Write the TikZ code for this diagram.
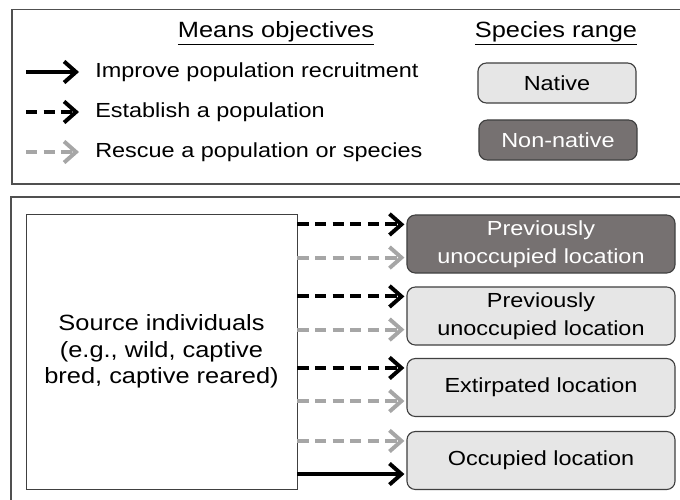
\documentclass[tikz,border=0pt]{standalone}
\usepackage{fontspec}
\setmainfont{Liberation Sans}[FakeStretch=1.15]
\usetikzlibrary{arrows.meta,calc}
\definecolor{framegray}{HTML}{505050}
\definecolor{edgegray}{HTML}{404040}
\definecolor{lightfill}{HTML}{E6E6E6}
\definecolor{darkfill}{HTML}{767171}
\definecolor{arrowgray}{HTML}{A6A6A6}
\begin{document}
\begin{tikzpicture}[x=.025cm,y=-.025cm,
    txt/.style={font=\fontsize{14.5}{20}\selectfont},
    hdr/.style={font=\fontsize{15.7}{19}\selectfont},
    panel/.style={draw=framegray,line width=1pt},
    loc/.style={draw=edgegray,line width=.8pt,rounded corners=6pt,fill=lightfill,
      minimum width=6.7cm,minimum height=1.45cm,align=center,inner sep=0pt,txt},
    rangebox/.style={loc,minimum width=3.95cm,minimum height=1cm},
    blk/.style={black,line width=2.8pt,-{Straight Barb[length=8.5pt,width=15pt]}},
    gry/.style={blk,arrowgray},
    dsh/.style={dash pattern=on 8pt off 4.5pt}]
  \useasboundingbox (0,0) rectangle (680,500);
  % frames
  \draw[panel] (12,9.5) rectangle (690,184);
  \draw[panel] (11,197) rectangle (690,510);
  % legend
  \node[hdr] (means) at (276,33) {\underline{Means objectives}};
  \node[hdr] (species) at (556,33) {\underline{Species range}};
  \node[txt,anchor=west,inner sep=0pt] (imp) at (95,72) {Improve population recruitment};
  \node[txt,anchor=west,inner sep=0pt] (est) at (95,112) {Establish a population};
  \node[txt,anchor=west,inner sep=0pt] (res) at (95,152) {Rescue a population or species};
  \draw[blk] ($(imp.west)+(-69,0)$) -- ($(imp.west)+(-16,0)$);
  \draw[blk,dsh] ($(est.west)+(-69,0)$) -- ($(est.west)+(-16,0)$);
  \draw[gry,dsh] ($(res.west)+(-69,0)$) -- ($(res.west)+(-16,0)$);
  \node[rangebox] (nat) at (557,83) {Native};
  \node[rangebox,fill=darkfill,text=white] (non) at (558,140) {Non-native};
  % source and locations
  \node[draw=edgegray,line width=.6pt,minimum width=6.775cm,minimum height=6.875cm,
    align=center,hdr] (src) at (161.5,351.5)
    {Source individuals\\(e.g., wild, captive\\bred, captive reared)};
  \node[loc,fill=darkfill,text=white] (prev1) at (541,244) {Previously\\unoccupied location};
  \node[loc] (prev2) at (541,316) {Previously\\unoccupied location};
  \node[loc] (extir) at (541,387.5) {Extirpated location};
  \node[loc] (occup) at (541,460.5) {Occupied location};
  \foreach \b in {prev1,prev2,extir,occup}{
    \coordinate (\b-up) at ($(\b.north west)+(-2,10)$);
    \coordinate (\b-lo) at ($(\b.south west)+(-2,-16)$);
  }
  \draw[blk,dsh] (src.east |- prev1-up) -- (prev1-up);
  \draw[gry,dsh] (src.east |- prev1-lo) -- (prev1-lo);
  \draw[blk,dsh] (src.east |- prev2-up) -- (prev2-up);
  \draw[gry,dsh] (src.east |- prev2-lo) -- (prev2-lo);
  \draw[blk,dsh] (src.east |- extir-up) -- (extir-up);
  \draw[gry,dsh] (src.east |- extir-lo) -- (extir-lo);
  \draw[gry,dsh] (src.east |- occup-up) -- (occup-up);
  \draw[blk] (src.east |- occup-lo) -- (occup-lo);
\end{tikzpicture}
\end{document}
